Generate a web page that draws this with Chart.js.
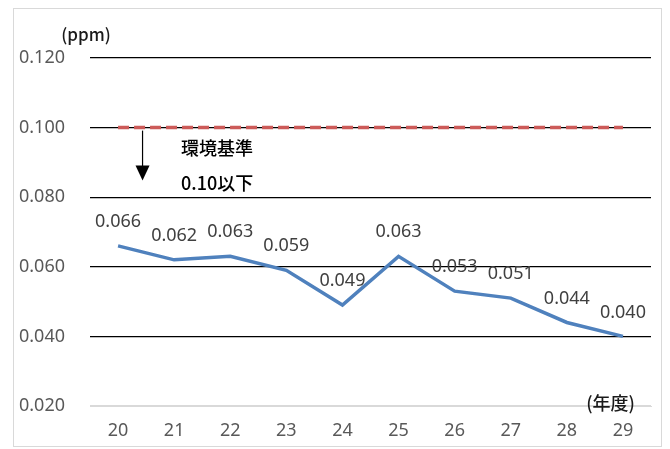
<!DOCTYPE html>
<html lang="ja">
<head>
<meta charset="utf-8">
<script src="https://cdn.jsdelivr.net/npm/chart.js@4.4.1/dist/chart.umd.min.js"></script>
<style>
  html, body { margin: 0; padding: 0; background: #ffffff; }
  #wrap { position: relative; width: 670px; height: 449px; }
  canvas { display: block; }
</style>
</head>
<body>
<div id="wrap"><canvas id="c" width="670" height="449"></canvas></div>
<script>
// Fiscal years (Heisei) and annual mean concentration (ppm)
const years = ['20', '21', '22', '23', '24', '25', '26', '27', '28', '29'];
const concentration = [0.066, 0.062, 0.063, 0.059, 0.049, 0.063, 0.053, 0.051, 0.044, 0.040];
const standardValue = 0.10;
const standardLine = years.map(() => standardValue);
const yTicks = [0.020, 0.040, 0.060, 0.080, 0.100, 0.120];
const unitLabel = '(ppm)';
const xTitle = '(年度)';
const standardText = ['環境基準', '0.10以下'];

const latinFont = '"Noto Sans", "DejaVu Sans", sans-serif';
const cjkFont = '"Noto Sans CJK JP", "Noto Sans", sans-serif';

// Frame, unit captions, value labels and the standard annotation
const decorations = {
  id: 'decorations',
  beforeDraw(chart) {
    const ctx = chart.ctx;
    ctx.save();
    ctx.fillStyle = '#ffffff';
    ctx.fillRect(0, 0, chart.width, chart.height);
    ctx.strokeStyle = '#d9d9d9';
    ctx.lineWidth = 1;
    ctx.strokeRect(13.5, 8.5, 648, 438);
    ctx.restore();
  },
  afterDatasetsDraw(chart) {
    const ctx = chart.ctx;
    const x = chart.scales.x;
    const y = chart.scales.y;
    ctx.save();

    // value labels above each point of the concentration series
    const meta = chart.getDatasetMeta(1);
    ctx.font = '18px ' + latinFont;
    ctx.fillStyle = '#404040';
    ctx.textAlign = 'center';
    ctx.textBaseline = 'middle';
    meta.data.forEach((pt, i) => {
      ctx.fillText(concentration[i].toFixed(3), pt.x, pt.y - 24);
    });

    // unit captions
    ctx.fillStyle = '#1a1a1a';
    ctx.font = '500 17px ' + cjkFont;
    ctx.fillText(unitLabel, chart.chartArea.left - 4, y.getPixelForValue(0.12) - 23);
    ctx.textAlign = 'right';
    ctx.font = '500 18px ' + cjkFont;
    ctx.fillText(xTitle, x.getPixelForValue(years.length - 1) + 12, y.getPixelForValue(0.02) - 3);

    // arrow pointing below the standard line
    const ax = x.getPixelForValue(0) + 24.5;
    const top = y.getPixelForValue(standardValue) + 3;
    const tip = y.getPixelForValue(standardValue) + 53;
    ctx.strokeStyle = '#000000';
    ctx.lineWidth = 1.2;
    ctx.beginPath();
    ctx.moveTo(ax, top);
    ctx.lineTo(ax, tip - 12);
    ctx.stroke();
    ctx.fillStyle = '#000000';
    ctx.beginPath();
    ctx.moveTo(ax - 7, tip - 15);
    ctx.lineTo(ax + 7, tip - 15);
    ctx.lineTo(ax, tip);
    ctx.closePath();
    ctx.fill();

    // standard caption
    ctx.textAlign = 'left';
    ctx.font = '500 18px ' + cjkFont;
    ctx.fillStyle = '#000000';
    const tx = x.getPixelForValue(0) + 63;
    ctx.fillText(standardText[0], tx, y.getPixelForValue(standardValue) + 21);
    ctx.fillText(standardText[1], tx, y.getPixelForValue(standardValue) + 56);
    ctx.restore();
  }
};

new Chart(document.getElementById('c'), {
  type: 'line',
  data: {
    labels: years,
    datasets: [
      {
        label: '環境基準',
        data: standardLine,
        borderColor: '#cc5b59',
        borderWidth: 3.5,
        borderDash: [11, 5],
        pointRadius: 0,
        fill: false,
        order: 1
      },
      {
        label: '濃度',
        data: concentration,
        borderColor: '#4f81bd',
        borderWidth: 3.5,
        pointRadius: 0,
        tension: 0,
        fill: false,
        order: 0
      }
    ]
  },
  options: {
    responsive: false,
    animation: false,
    events: [],
    layout: { padding: { left: 0, right: 19, top: 58, bottom: 0 } },
    plugins: {
      legend: { display: false },
      tooltip: { enabled: false }
    },
    scales: {
      x: {
        offset: true,
        grid: { display: false, drawTicks: false },
        border: { display: true, color: '#d9d9d9', width: 1 },
        ticks: {
          color: '#595959',
          font: { family: latinFont, size: 18 },
          padding: 14,
          maxRotation: 0
        },
        afterFit(scale) { scale.height = 43; }
      },
      y: {
        min: 0.02,
        max: 0.12,
        afterBuildTicks(scale) { scale.ticks = yTicks.map(v => ({ value: v })); },
        grid: {
          drawTicks: false,
          color: ctx => (ctx.tick && Math.abs(ctx.tick.value - 0.02) < 1e-9) ? '#d9d9d9' : '#000000',
          lineWidth: 1.2
        },
        border: { display: false },
        ticks: {
          color: '#595959',
          font: { family: latinFont, size: 18 },
          padding: 25,
          callback: v => Number(v).toFixed(3)
        },
        afterFit(scale) { scale.width = 90; }
      }
    }
  },
  plugins: [decorations]
});
</script>
</body>
</html>
